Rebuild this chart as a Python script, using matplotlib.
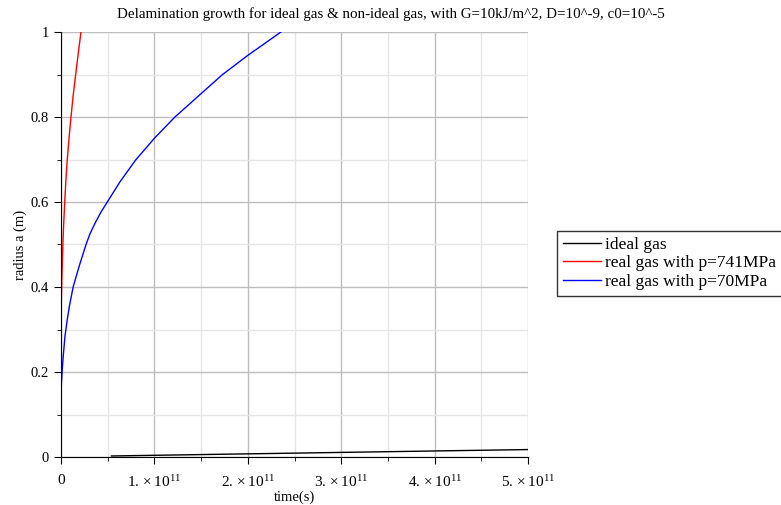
import matplotlib
matplotlib.use("Agg")
import matplotlib.pyplot as plt
from matplotlib.ticker import MultipleLocator, FuncFormatter

# values (time in s, radius in m)
t_ideal = [0.54e11, 1.0e11, 2.0e11, 3.0e11, 4.0e11, 5.0e11]
a_ideal = [0.0024, 0.0040, 0.0074, 0.0108, 0.0142, 0.0175]

t_741 = [0, 0.003e11, 0.007e11, 0.013e11, 0.02e11, 0.029e11, 0.04e11, 0.052e11,
         0.067e11, 0.086e11, 0.107e11, 0.13e11, 0.157e11, 0.185e11, 0.214e11]
a_741 = [0.30, 0.36, 0.40, 0.45, 0.50, 0.55, 0.60, 0.65,
         0.70, 0.75, 0.80, 0.85, 0.90, 0.95, 1.00]

t_70 = [0, 0.002e11, 0.006e11, 0.013e11, 0.025e11, 0.043e11, 0.065e11, 0.09e11,
        0.13e11, 0.196e11, 0.268e11, 0.31e11, 0.364e11, 0.43e11, 0.507e11,
        0.63e11, 0.80e11, 1.0e11, 1.22e11, 1.5e11, 1.73e11, 2.0e11, 2.355e11]
a_70 = [0.14, 0.16, 0.18, 0.205, 0.24, 0.285, 0.32, 0.355,
        0.40, 0.45, 0.50, 0.525, 0.55, 0.577, 0.604,
        0.647, 0.699, 0.75, 0.80, 0.855, 0.90, 0.945, 1.00]

labels = ["ideal gas", "real gas with p=741MPa", "real gas with p=70MPa"]

plt.rcParams.update({
    "font.family": "Liberation Serif",
    "mathtext.fontset": "custom",
    "mathtext.rm": "Liberation Serif",
    "mathtext.it": "Liberation Serif:italic",
})

fig = plt.figure(figsize=(7.81, 5.05), dpi=100, facecolor="white")
ax = fig.add_axes([61 / 781, 48 / 505, 467 / 781, 425 / 505])

ax.plot(t_ideal, a_ideal, color="black", lw=1.0, label=labels[0])
ax.plot(t_741, a_741, color="red", lw=1.0, label=labels[1])
ax.plot(t_70, a_70, color="blue", lw=1.0, label=labels[2])

ax.set_xlim(0, 5e11)
ax.set_ylim(0, 1)
ax.xaxis.set_major_locator(MultipleLocator(1e11))
ax.xaxis.set_minor_locator(MultipleLocator(0.5e11))
ax.yaxis.set_major_locator(MultipleLocator(0.2))
ax.yaxis.set_minor_locator(MultipleLocator(0.1))


def xfmt(v, pos):
    n = int(round(v / 1e11))
    if n == 0:
        return "0"
    return r"$%d.\times10^{11}$" % n


def yfmt(v, pos):
    if abs(v) < 1e-9:
        return "0"
    if abs(v - 1) < 1e-9:
        return "1"
    return "%.1f" % v


ax.xaxis.set_major_formatter(FuncFormatter(xfmt))
ax.yaxis.set_major_formatter(FuncFormatter(yfmt))

ax.grid(which="major", color="#bdbdbd", lw=1.0)
ax.grid(which="minor", color="#e6e6e6", lw=1.0)
ax.set_axisbelow(True)

for s in ("top", "right"):
    ax.spines[s].set_visible(False)
ax.spines["left"].set_color("black")
ax.spines["bottom"].set_color("black")
ax.tick_params(which="major", length=5, labelsize=10.5, direction="out")
ax.tick_params(axis="x", which="major", labelsize=11, pad=7)
ax.tick_params(which="minor", length=3, direction="out")

ax.set_xlabel("time(s)", fontsize=10.5, labelpad=1)
ax.set_ylabel("radius a (m)", fontsize=10.5, labelpad=3)
fig.text(0.5, 0.972, "Delamination growth for ideal gas & non-ideal gas, "
         "with G=10kJ/m^2, D=10^-9, c0=10^-5", ha="center", va="center",
         fontsize=10.8)

leg = fig.legend(loc="upper left", bbox_to_anchor=(557 / 781, 1 - 231 / 505),
                 fontsize=12.5, frameon=True, fancybox=False, edgecolor="black",
                 handlelength=2.2, handletextpad=0.2, borderpad=0.35,
                 borderaxespad=0, labelspacing=0.12)
leg.get_frame().set_linewidth(1.0)

fig.savefig("out.png", dpi=100, facecolor="white")
